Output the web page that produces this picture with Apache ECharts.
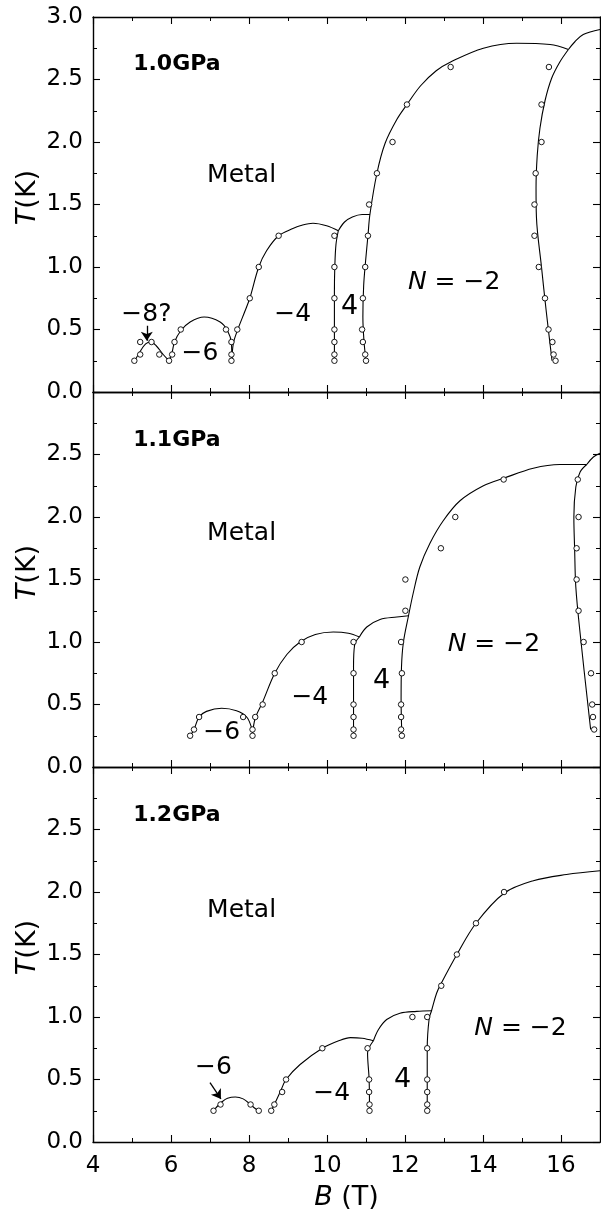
<!DOCTYPE html>
<html><head><meta charset="utf-8">
<script src="https://cdn.jsdelivr.net/npm/echarts@6/dist/echarts.min.js"></script>
<style>html,body{margin:0;padding:0;background:#fff}#c{width:601px;height:1216px}</style>
</head><body><div id="c"></div>
<script>
// ---------- DATA ----------
const xRange = [4, 17];
const yRange = [0, 3];
const panelNames = ['1.0GPa', '1.1GPa', '1.2GPa'];

// measured points (B [T], T [K])
const points10 = [[5.06,0.25],[5.21,0.30],[5.21,0.40],[5.50,0.40],[5.70,0.30],[5.95,0.25],
  [6.03,0.30],[6.09,0.40],[6.25,0.50],[7.41,0.50],[7.55,0.40],[7.55,0.30],[7.55,0.25],
  [7.70,0.50],[8.02,0.75],[8.25,1.00],[8.76,1.25],
  [10.19,1.25],[10.19,1.00],[10.19,0.75],[10.19,0.50],[10.19,0.40],[10.19,0.30],[10.19,0.25],
  [11.05,1.25],[11.08,1.50],[10.98,1.00],[10.92,0.75],[10.90,0.50],[10.92,0.40],[10.98,0.30],[11.00,0.25],
  [11.28,1.75],[11.68,2.00],[12.05,2.30],[13.17,2.60],
  [15.69,2.60],[15.50,2.30],[15.50,2.00],[15.35,1.75],[15.32,1.50],[15.32,1.25],[15.43,1.00],
  [15.59,0.75],[15.68,0.50],[15.78,0.40],[15.81,0.30],[15.86,0.25]];
const points11 = [[6.49,0.25],[6.59,0.30],[6.72,0.40],[7.85,0.40],[8.09,0.30],[8.09,0.25],[8.16,0.40],
  [8.35,0.50],[8.66,0.75],[9.35,1.00],
  [10.68,1.00],[10.68,0.75],[10.68,0.50],[10.68,0.40],[10.68,0.30],[10.68,0.25],
  [11.90,1.00],[12.01,1.25],[12.01,1.50],[11.92,0.75],[11.90,0.50],[11.90,0.40],[11.90,0.30],[11.92,0.25],
  [12.92,1.75],[13.29,2.00],[14.53,2.30],
  [16.43,2.30],[16.45,2.00],[16.40,1.75],[16.40,1.50],[16.45,1.25],[16.58,1.00],[16.77,0.75],
  [16.80,0.50],[16.82,0.40],[16.85,0.30]];
const points12 = [[7.09,0.25],[7.27,0.30],[8.04,0.30],[8.25,0.25],[8.57,0.25],[8.65,0.30],[8.85,0.40],
  [8.95,0.50],[9.88,0.75],
  [11.04,0.75],[11.08,0.50],[11.08,0.40],[11.09,0.30],[11.09,0.25],
  [12.19,1.00],[12.57,1.00],[12.57,0.75],[12.57,0.50],[12.57,0.40],[12.57,0.30],[12.57,0.25],
  [12.93,1.25],[13.33,1.50],[13.82,1.75],[14.54,2.00]];

// phase boundary curves
const curves10 = [
  [[5.07,0.25],[5.2,0.32],[5.35,0.385],[5.48,0.40],[5.62,0.37],[5.8,0.3],[5.95,0.25]],
  [[5.95,0.25],[6.03,0.32],[6.09,0.40],[6.25,0.49],[6.49,0.56],[6.85,0.60],[7.26,0.56],[7.45,0.49],[7.55,0.39],[7.56,0.25]],
  [[7.56,0.25],[7.6,0.39],[7.70,0.49],[7.90,0.65],[8.02,0.75],[8.25,1.0],[8.45,1.13],[8.76,1.25],[9.14,1.31],[9.31,1.33],[9.64,1.35],[9.99,1.33],[10.29,1.29]],
  [[10.19,0.25],[10.19,0.5],[10.19,0.8],[10.2,1.0],[10.23,1.18],[10.29,1.29]],
  [[10.29,1.29],[10.45,1.36],[10.65,1.40],[10.9,1.42],[11.10,1.42]],
  [[11.0,0.25],[10.95,0.4],[10.92,0.6],[10.94,0.85],[10.99,1.05],[11.05,1.25],[11.10,1.42],[11.28,1.75],[11.49,1.99],[11.79,2.18],[12.05,2.30],[12.4,2.45],[12.8,2.57],[13.17,2.64],[14.01,2.75],[14.86,2.79],[15.72,2.78],[16.19,2.74]],
  [[16.19,2.74],[15.97,2.64],[15.76,2.51],[15.59,2.33],[15.46,2.11],[15.39,1.89],[15.36,1.63],[15.37,1.4],[15.5,1.0],[15.62,0.65],[15.77,0.25]],
  [[16.19,2.74],[16.35,2.80],[16.57,2.86],[17.0,2.90]]
];
const curves11 = [
  [[6.49,0.25],[6.59,0.30],[6.72,0.40],[6.91,0.445],[7.30,0.47],[7.68,0.45],[7.94,0.40],[8.07,0.31],[8.09,0.26]],
  [[8.09,0.26],[8.16,0.39],[8.35,0.52],[8.66,0.75],[8.97,0.90],[9.31,1.0],[9.7,1.06],[10.16,1.08],[10.55,1.07],[10.83,1.04]],
  [[10.68,0.25],[10.68,0.5],[10.68,0.8],[10.71,0.98],[10.83,1.04]],
  [[10.83,1.04],[11.02,1.12],[11.36,1.18],[11.79,1.20],[12.09,1.21]],
  [[11.92,0.25],[11.90,0.54],[11.91,0.8],[11.96,1.0],[12.09,1.21],[12.21,1.39],[12.38,1.60],[12.64,1.79],[12.98,1.97],[13.41,2.13],[14.01,2.25],[14.53,2.31],[15.29,2.39],[15.97,2.42],[16.66,2.42]],
  [[16.66,2.42],[16.49,2.36],[16.38,2.24],[16.33,2.0],[16.35,1.74],[16.38,1.44],[16.49,1.07],[16.76,0.30]],
  [[16.66,2.42],[16.83,2.48],[17.0,2.51]]
];
const curves12 = [
  [[7.09,0.25],[7.2,0.29],[7.3,0.32],[7.45,0.35],[7.65,0.36],[7.85,0.345],[8.04,0.30],[8.15,0.27],[8.25,0.25]],
  [[8.57,0.25],[8.65,0.30],[8.8,0.40],[8.95,0.50],[9.31,0.62],[9.88,0.75],[10.3,0.81],[10.6,0.835],[10.9,0.83],[11.19,0.81]],
  [[11.09,0.25],[11.08,0.5],[11.04,0.71],[11.19,0.81]],
  [[11.19,0.81],[11.32,0.90],[11.53,0.98],[11.87,1.03],[12.30,1.045],[12.68,1.05]],
  [[12.57,0.25],[12.57,0.75],[12.62,0.99],[12.68,1.05],[12.81,1.19],[12.93,1.27],[13.33,1.5],[13.82,1.75],[14.54,1.99],[15.29,2.09],[16.14,2.14],[17.0,2.17]]
];

// annotation texts with their (B, T) anchor
const notes10 = [['Metal',7.81,1.73],['−8?',5.37,0.62],['−6',6.74,0.31],['−4',9.12,0.62],['4',10.58,0.68],['N = −2',13.26,0.88]];
const notes11 = [['Metal',7.81,1.87],['−6',7.30,0.28],['−4',9.56,0.56],['4',11.40,0.69],['N = −2',14.28,0.98]];
const notes12 = [['Metal',7.81,1.855],['−6',7.09,0.595],['−4',10.12,0.385],['4',11.94,0.50],['N = −2',14.96,0.91]];
const nameAnchors = [[5.03,2.62],[5.03,2.61],[5.03,2.61]];

// arrows (from, to)
const arrows10 = [[[5.38,0.53],[5.38,0.41]]];
const arrows11 = [];
const arrows12 = [[[7.0,0.475],[7.28,0.345]]];

// ---------- CHART ----------
const FONT = 'DejaVu Sans';
const BLACK = '#000';
const allPoints = [points10, points11, points12];
const allCurves = [curves10, curves11, curves12];
const allNotes = [notes10, notes11, notes12];
const allArrows = [arrows10, arrows11, arrows12];

const PT = 17, PH = 375, PL = 93, PW = 507;
const grid = [], xAxis = [], yAxis = [], series = [];

for (let i = 0; i < 3; i++) {
  grid.push({left: PL, width: PW, top: PT + PH * i, height: PH});
  const base = {gridIndex: i, type: 'value', min: xRange[0], max: xRange[1], splitLine: {show: false}};
  const lastPanel = i === 2;
  // major bottom
  xAxis.push(Object.assign({}, base, {
    position: 'bottom', interval: 2,
    axisLine: {show: true, lineStyle: {color: BLACK, width: 1.4}},
    axisTick: {show: true, inside: true, length: 7, lineStyle: {color: BLACK, width: 1.1}},
    axisLabel: {show: lastPanel, fontFamily: FONT, fontSize: 23, color: BLACK, margin: 13, showMaxLabel: false},
    name: lastPanel ? '{i|B} (T)' : '', nameLocation: 'middle', nameGap: 42,
    nameTextStyle: {fontFamily: FONT, fontSize: 27, color: BLACK,
      rich: {i: {fontFamily: FONT, fontSize: 27, color: BLACK, fontStyle: 'italic'}}}
  }));
  // minor bottom
  xAxis.push(Object.assign({}, base, {
    position: 'bottom', interval: 1,
    axisLine: {show: false},
    axisTick: {show: true, inside: true, length: 4, lineStyle: {color: BLACK, width: 1}},
    axisLabel: {show: false}
  }));
  // major top
  xAxis.push(Object.assign({}, base, {
    position: 'top', interval: 2,
    axisLine: {show: true, lineStyle: {color: BLACK, width: 1.4}},
    axisTick: {show: true, inside: true, length: 7, lineStyle: {color: BLACK, width: 1.1}},
    axisLabel: {show: false}
  }));
  // minor top
  xAxis.push(Object.assign({}, base, {
    position: 'top', interval: 1,
    axisLine: {show: false},
    axisTick: {show: true, inside: true, length: 4, lineStyle: {color: BLACK, width: 1}},
    axisLabel: {show: false}
  }));
  const ybase = {gridIndex: i, type: 'value', min: yRange[0], max: yRange[1], interval: 0.5, splitLine: {show: false},
    axisLine: {show: true, lineStyle: {color: BLACK, width: 1.4}},
    axisTick: {show: true, inside: true, length: 7, lineStyle: {color: BLACK, width: 1.1}},
    minorTick: {show: true, splitNumber: 2, length: 4, lineStyle: {color: BLACK, width: 1}}};
  yAxis.push(Object.assign({}, ybase, {
    position: 'left',
    axisLabel: {show: true, fontFamily: FONT, fontSize: 23, color: BLACK, margin: 10,
      showMaxLabel: i === 0, formatter: v => v.toFixed(1)},
    name: '{i|T}(K)', nameLocation: 'middle', nameGap: 52, nameMoveOverlap: false,
    nameTextStyle: {fontFamily: FONT, fontSize: 27, color: BLACK, padding: [0, 0, 0, 14],
      rich: {i: {fontFamily: FONT, fontSize: 27, color: BLACK, fontStyle: 'italic'}}}
  }));
  yAxis.push(Object.assign({}, ybase, {position: 'right', axisLabel: {show: false}}));

  const xi = 4 * i, yi = 2 * i;
  // curves
  allCurves[i].forEach(c => series.push({
    type: 'line', xAxisIndex: xi, yAxisIndex: yi, data: c, smooth: 0.35, showSymbol: false,
    lineStyle: {color: BLACK, width: 1.1}, silent: true, z: 2
  }));
  // points
  series.push({
    type: 'scatter', xAxisIndex: xi, yAxisIndex: yi, data: allPoints[i],
    symbol: 'circle', symbolSize: 5.5,
    itemStyle: {color: '#fff', borderColor: BLACK, borderWidth: 0.9, opacity: 1}, z: 3, silent: true
  });
  // arrows
  if (allArrows[i].length) series.push({
    type: 'lines', coordinateSystem: 'cartesian2d', xAxisIndex: xi, yAxisIndex: yi,
    data: allArrows[i].map(a => ({coords: a})), symbol: ['none', 'arrow'], symbolSize: [0, 9],
    lineStyle: {color: BLACK, width: 1.3, opacity: 1}, silent: true, z: 4
  });
  // annotations
  const noteData = allNotes[i].map(n => {
    const isN = n[0].indexOf('N') === 0;
    const isMetal = n[0] === 'Metal';
    return {
      value: [n[1], n[2]],
      label: {
        formatter: isN ? '{i|N} = −2' : n[0],
        fontSize: isMetal ? 25 : (n[0] === '4' ? 27 : 25)
      }
    };
  });
  noteData.push({
    value: nameAnchors[i],
    label: {formatter: panelNames[i], fontWeight: 'bold', fontSize: 22, align: 'left'}
  });
  series.push({
    type: 'scatter', xAxisIndex: xi, yAxisIndex: yi, data: noteData, symbolSize: 0, silent: true, z: 5,
    itemStyle: {color: BLACK, opacity: 0},
    label: {show: true, position: 'inside', color: BLACK, opacity: 1, textBorderWidth: 0, textBorderColor: 'transparent',
      fontFamily: FONT, fontSize: 25,
      rich: {i: {fontFamily: FONT, fontSize: 25, color: BLACK, fontStyle: 'italic'}}}
  });
}

const chart = echarts.init(document.getElementById('c'), null, {renderer: 'canvas'});
chart.setOption({animation: false, backgroundColor: '#fff', grid, xAxis, yAxis, series});
</script>
</body></html>
